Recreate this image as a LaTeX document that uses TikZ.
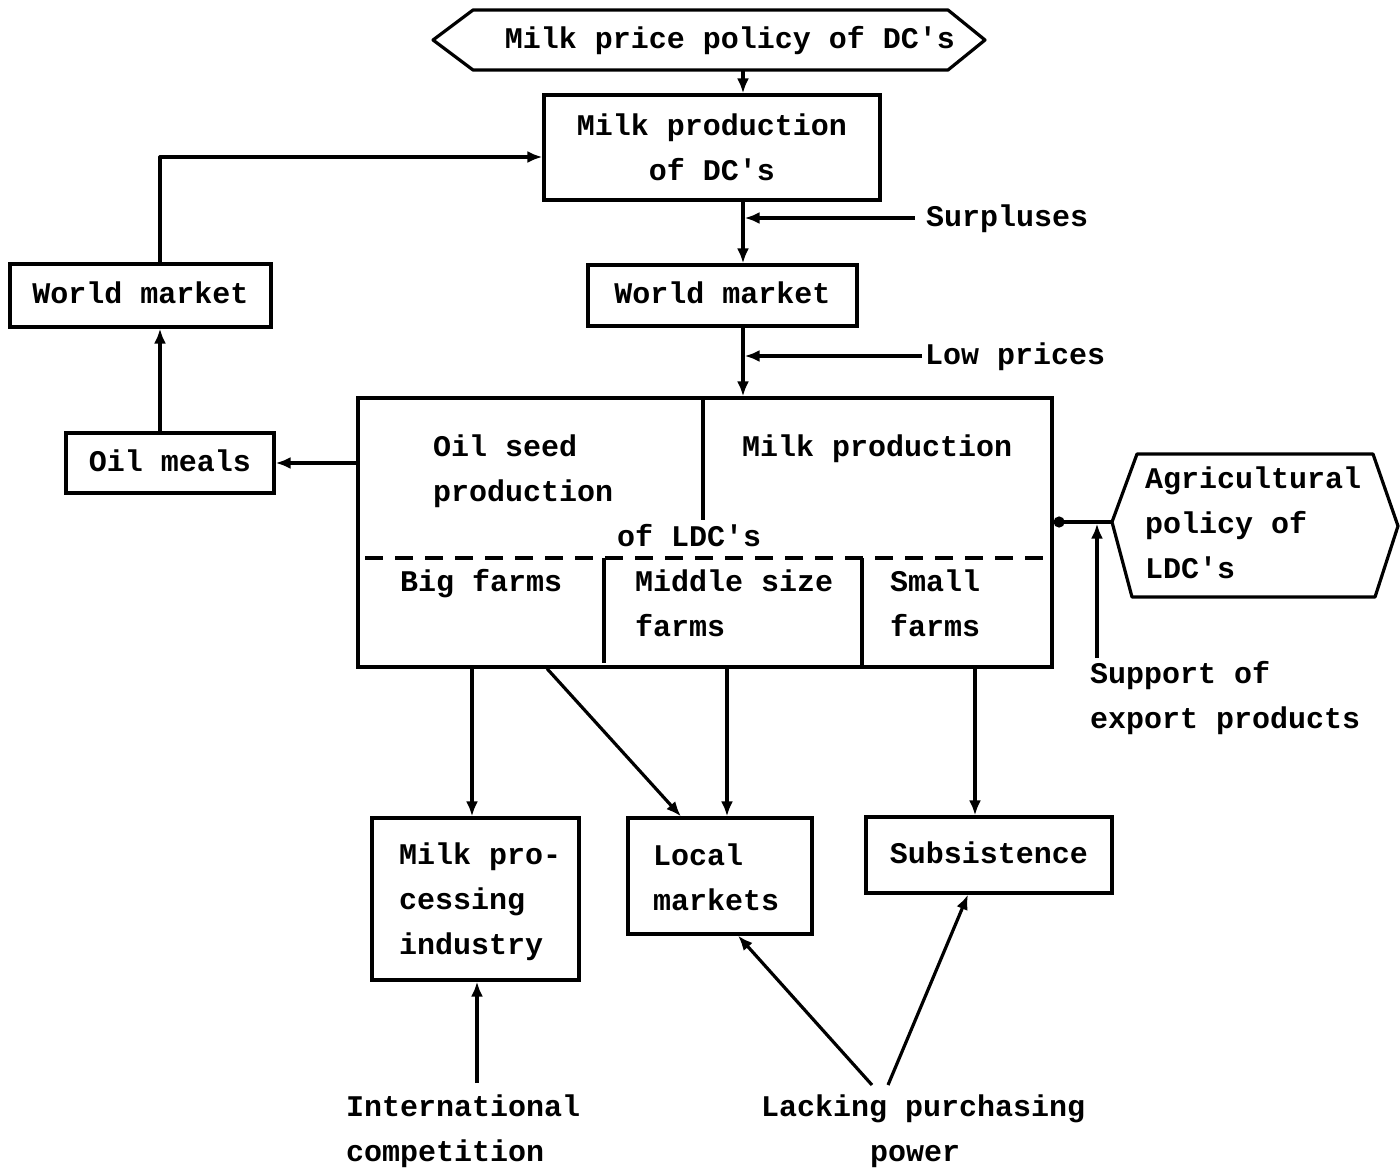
\documentclass[tikz,border=0pt]{standalone}
\usepackage{fontspec}
\newfontfamily\tw{Liberation Mono}
\usetikzlibrary{arrows.meta}
\begin{document}
\begin{tikzpicture}[x=1pt,y=-1pt,
  every node/.style={font=\tw\bfseries\fontsize{30}{45}\selectfont, inner sep=0pt},
  ln/.style={line width=3.2pt, line join=round},
  arr/.style={ln, -{Latex[length=15pt,width=12pt]}},
  box/.style={draw, line width=3.2pt},
  lbl/.style={anchor=west, text height=16pt, text depth=0pt},
  one/.style={text height=16pt, text depth=0pt}
]
\useasboundingbox (0,0) rectangle (1400,1170);
\fill[white] (0,0) rectangle (1400,1170);

% top hexagon
\draw[ln] (433,40) -- (473,10) -- (948,10) -- (985,40) -- (948,70) -- (473,70) -- cycle;
\node[one] (hx1) at (730,40) {Milk price policy of DC's};
\coordinate (hx1b) at (743,70);
\coordinate (sx) at (743,0);

\node[box, minimum width=336pt, minimum height=105pt, align=center] (mpdc) at (712,147.5) {Milk production\\of DC's};
\draw[arr] (hx1b) -- (sx |- mpdc.north);

\node[box, one, minimum width=269pt, minimum height=61pt] (wm) at (722.5,295.5) {World market};
\draw[arr] (sx |- mpdc.south) -- (sx |- wm.north);
\node[lbl] (surp) at (926,218) {Surpluses};
\draw[arr] ([xshift=-11pt]surp.west) -- ([xshift=1.6pt]sx |- surp.west);

\node[lbl] (low) at (925,356) {Low prices};
\draw[arr] ([xshift=-3pt]low.west) -- ([xshift=1.6pt]sx |- low.west);

% big box
\node[box, minimum width=694pt, minimum height=269pt] (big) at (705,532.5) {};
\draw[arr] (sx |- wm.south) -- (sx |- big.north);
\coordinate (dv) at (703,520);
\draw[ln] (dv |- big.north) -- (dv);
\node[lbl] (os1) at (433,448) {Oil seed};
\node[lbl] (os2) at (433,493) {production};
\node[lbl] (mp) at (742,448) {Milk production};
\node[lbl] (of) at (617,538) {of LDC's};
\coordinate (dl) at (365,558);
\coordinate (dr) at (1048,558);
\draw[ln, dash pattern=on 18pt off 12pt] (dl) -- (dr);
\coordinate (d1) at (604,663);
\draw[ln] (d1 |- dl) -- (d1);
\coordinate (d2) at (862,558);
\draw[ln] (d2) -- (d2 |- big.south);
\node[lbl] (bf) at (400,583) {Big farms};
\node[lbl] (ms1) at (635,583) {Middle size};
\node[lbl] (ms2) at (635,628) {farms};
\node[lbl] (sf1) at (890,583) {Small};
\node[lbl] (sf2) at (890,628) {farms};

% left side
\node[box, one, minimum width=208pt, minimum height=60pt] (oil) at (170,463) {Oil meals};
\node[box, one, minimum width=261pt, minimum height=63pt] (wml) at (140.5,295.5) {World market};
\draw[arr] (big.west |- oil) -- (oil.east);
\coordinate (lx) at (160,157);
\draw[arr] (lx |- oil.north) -- (lx |- wml.south);
\draw[arr] (lx |- wml.north) -- (lx) -- (mpdc.west |- lx);

% right hexagon
\draw[ln] (1112,522) -- (1137,454) -- (1373,454) -- (1398,526) -- (1375,597) -- (1132,597) -- cycle;
\coordinate (hx2l) at (1112,522);
\node[anchor=west, align=left] (agr) at (1145,523) {Agricultural\\policy of\\LDC's};
\draw[ln, {Circle[length=11pt]}-] (big.east |- hx2l) -- (hx2l);
\coordinate (sp) at (1097,658);
\draw[arr] (sp) -- ([yshift=-1.6pt]sp |- hx2l);
\node[lbl] (sup1) at (1090,675) {Support of};
\node[lbl] (sup2) at (1090,720) {export products};

% bottom boxes
\node[box, minimum width=207pt, minimum height=162pt] (mpi) at (475.5,899) {};
\node[anchor=west, align=left] (mpit) at (399,902) {Milk pro-\\cessing\\industry};
\node[box, minimum width=184pt, minimum height=116pt] (lm) at (720,876) {};
\node[anchor=west, align=left] (lmt) at (653,877) {Local\\markets};
\node[box, one, minimum width=246pt, minimum height=76pt] (sub) at (989,855) {Subsistence};

\coordinate (b1) at (472,0);
\draw[arr] (b1 |- big.south) -- (b1 |- mpi.north);
\coordinate (b2a) at (547,0);
\coordinate (b2b) at (681,0);
\draw[arr] (b2a |- big.south) -- (b2b |- lm.north);
\coordinate (b3) at (727,0);
\draw[arr] (b3 |- big.south) -- (b3 |- lm.north);
\coordinate (b4) at (975,0);
\draw[arr] (b4 |- big.south) -- (b4 |- sub.north);

% bottom labels
\node[lbl] (ic1) at (346,1108) {International};
\node[lbl] (ic2) at (346,1153) {competition};
\coordinate (ia) at (477,1083);
\draw[arr] (ia) -- (ia |- mpi.south);
\node[lbl] (lp1) at (761,1108) {Lacking purchasing};
\node[one] (lp2) at (915,1153) {power};
\coordinate (la1) at (872,1085);
\coordinate (la2) at (888,1085);
\coordinate (lt1) at (738,0);
\coordinate (lt2) at (968,0);
\draw[arr] (la1) -- (lt1 |- lm.south);
\draw[arr] (la2) -- (lt2 |- sub.south);
\end{tikzpicture}
\end{document}
